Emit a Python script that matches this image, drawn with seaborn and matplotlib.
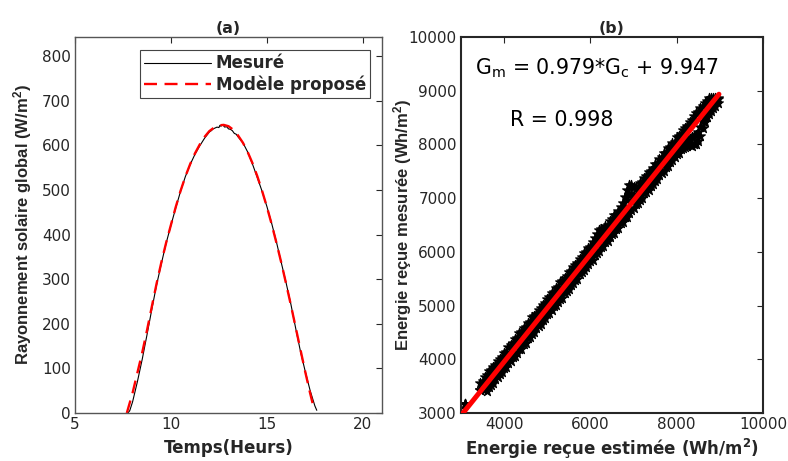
import matplotlib
matplotlib.use("Agg")
import matplotlib.pyplot as plt
import seaborn as sns
import pandas as pd

# ---------------- data: panel (a) ----------------
time_meas = [7.75, 7.85, 8.0, 8.25, 8.5, 8.75, 9.0, 9.25, 9.5, 9.75, 10.0, 10.25,
             10.5, 10.75, 11.0, 11.25, 11.5, 11.75, 12.0, 12.1, 12.2, 12.3, 12.4,
             12.5, 12.55, 12.6, 12.7, 12.8, 12.9, 13.0, 13.1, 13.2, 13.3, 13.4,
             13.5, 13.75, 14.0, 14.25, 14.5, 14.75, 15.0, 15.25, 15.5, 15.75,
             16.0, 16.25, 16.5, 16.75, 17.0, 17.25, 17.5, 17.6]
g_meas = [0, 5, 25, 70, 120, 175, 232, 287, 335, 381, 421, 460,
          497, 530, 557, 580, 599, 616, 630, 633, 637, 639, 641,
          640, 645, 643, 646, 641, 642, 637, 636, 633, 627, 625,
          619, 606, 585, 558, 528, 497, 463, 425, 383, 337,
          292, 244, 190, 138, 93, 51, 16, 6]

time_model = [7.7, 8.0, 8.25, 8.5, 8.75, 9.0, 9.25, 9.5, 9.75, 10.0, 10.25, 10.5,
              10.75, 11.0, 11.25, 11.5, 11.75, 12.0, 12.25, 12.5, 12.75, 13.0,
              13.25, 13.5, 13.75, 14.0, 14.25, 14.5, 14.75, 15.0, 15.25, 15.5,
              15.75, 16.0, 16.25, 16.5, 16.75, 17.0, 17.25, 17.45]
g_model = [0, 45, 90, 135, 185, 238, 290, 338, 382, 422, 462, 498,
           530, 558, 582, 602, 619, 632, 640, 645, 646, 643,
           635, 622, 606, 585, 560, 531, 498, 462, 423, 381,
           337, 290, 242, 192, 142, 92, 45, 10]

# ---------------- data: panel (b) ----------------
# estimated energy, and measured energy of the upper edge, middle and lower edge
# of the point cloud
energy_est = [3093,
              3450, 3500, 3550, 3600, 3650, 3700, 3750, 3800, 3850, 3900,
              3950, 4000, 4050, 4100, 4150, 4200, 4250, 4300, 4350, 4400,
              4450, 4500, 4550, 4600, 4650, 4700, 4750, 4800, 4850, 4900,
              4950, 5000, 5050, 5100, 5150, 5200, 5250, 5300, 5350, 5400,
              5450, 5500, 5550, 5600, 5650, 5700, 5750, 5800, 5850, 5900,
              5950, 6000, 6050, 6100, 6150, 6200, 6250, 6300, 6350, 6400,
              6450, 6500, 6550, 6600, 6650, 6700, 6750, 6800, 6850, 6900,
              6950, 7000, 7050, 7100, 7150, 7200, 7250, 7300, 7350, 7400,
              7450, 7500, 7550, 7600, 7650, 7700, 7750, 7800, 7850, 7900,
              7950, 8000, 8050, 8100, 8150, 8200, 8250, 8300, 8350, 8400,
              8450, 8500, 8550, 8600, 8650, 8700, 8750, 8800, 8850, 8900,
              8950]
energy_mes_hi = [3165,
                 3560, 3590, 3670, 3700, 3780, 3795, 3865, 3885, 3975, 4005,
                 4050, 4120, 4140, 4235, 4260, 4295, 4375, 4400, 4490, 4515,
                 4580, 4605, 4670, 4695, 4790, 4810, 4840, 4925, 4950, 5015,
                 5045, 5125, 5160, 5240, 5250, 5320, 5340, 5430, 5455, 5515,
                 5550, 5630, 5645, 5720, 5760, 5790, 5875, 5905, 5985, 6000,
                 6065, 6095, 6180, 6250, 6340, 6400, 6420, 6410, 6475, 6500,
                 6570, 6605, 6680, 6695, 6765, 6840, 6910, 7020, 7150, 7240,
                 7250, 7200, 7180, 7210, 7275, 7295, 7370, 7405, 7485, 7500,
                 7565, 7630, 7645, 7720, 7760, 7840, 7850, 7925, 7955, 8020,
                 8050, 8130, 8160, 8195, 8275, 8315, 8350, 8420, 8455, 8530,
                 8580, 8610, 8680, 8710, 8770, 8800, 8860, 8870, 8870, 8865,
                 8870]
energy_mes_mid = [3165,
                  3420, 3440, 3530, 3530, 3610, 3690, 3670, 3750, 3830, 3840,
                  3910, 3930, 4030, 4040, 4120, 4120, 4240, 4250, 4280, 4380,
                  4390, 4470, 4470, 4560, 4640, 4630, 4700, 4780, 4790, 4860,
                  4930, 4930, 5010, 5040, 5140, 5150, 5170, 5270, 5290, 5380,
                  5400, 5470, 5480, 5580, 5590, 5660, 5670, 5790, 5800, 5870,
                  5890, 5980, 6010, 6100, 6230, 6300, 6310, 6270, 6290, 6380,
                  6410, 6430, 6530, 6540, 6620, 6650, 6740, 6840, 6970, 7060,
                  7070, 7040, 7030, 7050, 7120, 7130, 7240, 7240, 7310, 7380,
                  7390, 7470, 7480, 7560, 7640, 7650, 7670, 7780, 7790, 7860,
                  7930, 7930, 8010, 8040, 8060, 8080, 8100, 8110, 8130, 8150,
                  8180, 8240, 8330, 8440, 8550, 8620, 8690, 8750, 8800, 8830,
                  8850]
energy_mes_lo = [3165,
                 3420, 3440, 3440, 3410, 3490, 3520, 3550, 3635, 3665, 3725,
                 3770, 3840, 3855, 3930, 3965, 4045, 4060, 4125, 4185, 4200,
                 4280, 4310, 4390, 4415, 4475, 4505, 4585, 4620, 4650, 4730,
                 4765, 4835, 4860, 4925, 4990, 5005, 5070, 5130, 5150, 5235,
                 5275, 5310, 5390, 5415, 5480, 5500, 5585, 5620, 5660, 5725,
                 5765, 5830, 5855, 5935, 5970, 6010, 6090, 6115, 6175, 6205,
                 6270, 6335, 6360, 6425, 6450, 6530, 6565, 6640, 6655, 6720,
                 6780, 6810, 6885, 6915, 6975, 7000, 7090, 7120, 7160, 7230,
                 7265, 7325, 7355, 7435, 7470, 7510, 7580, 7600, 7675, 7715,
                 7760, 7830, 7850, 7920, 7940, 7960, 7975, 7990, 7980, 8000,
                 8010, 8060, 8150, 8300, 8420, 8510, 8570, 8620, 8680, 8720,
                 8770]

fit_est = [3050, 8980]
fit_mes = [3003, 8935]

# ---------------- style ----------------
sns.set_theme(style="white")
plt.rcParams["font.family"] = ["DejaVu Sans"]
plt.rcParams["mathtext.default"] = "regular"
plt.rcParams["xtick.direction"] = "in"
plt.rcParams["ytick.direction"] = "in"

fig = plt.figure(figsize=(7.88, 4.61), dpi=100)
ax1 = fig.add_axes([0.0952, 0.1041, 0.3896, 0.8156])
ax2 = fig.add_axes([0.585, 0.1041, 0.3832, 0.8156])

tick_color = "#262626"
vfont = {"family": "Liberation Sans", "size": 12, "weight": "bold"}

# ---------------- panel (a) ----------------
df_meas = pd.DataFrame({"t": time_meas, "g": g_meas})
df_model = pd.DataFrame({"t": time_model, "g": g_model})
sns.lineplot(data=df_meas, x="t", y="g", ax=ax1, color="black", linewidth=0.8,
             label="Mesuré", sort=False)
sns.lineplot(data=df_model, x="t", y="g", ax=ax1, color="#ff0000", linewidth=1.7,
             dashes=(5.5, 3.2), label="Modèle proposé", sort=False)
ax1.set_xlim(5, 21)
ax1.set_ylim(0, 843)
ax1.set_xticks([5, 10, 15, 20])
ax1.set_yticks([0, 100, 200, 300, 400, 500, 600, 700, 800])
ax1.set_xlabel("Temps(Heurs)", fontsize=12, fontweight="bold", color="#262626")
ax1.xaxis.set_label_coords(0.5, -0.068)
ax1.set_ylabel("Rayonnement solaire global (W/m$^2$)", fontdict=vfont, color="#262626")
ax1.yaxis.set_label_coords(-0.135, 0.5)
ax1.set_title("(a)", fontsize=11.3, fontweight="bold", pad=3)
leg = ax1.legend(loc="upper right", bbox_to_anchor=(0.961, 0.965), fancybox=False,
                 edgecolor="#444444", framealpha=1, borderaxespad=0, handlelength=4.0,
                 prop={"weight": "bold", "size": 12}, borderpad=0.25, labelspacing=0.2,
                 handletextpad=0.3)
leg.get_frame().set_linewidth(0.8)
for sp in ax1.spines.values():
    sp.set_color("#555555")
    sp.set_linewidth(1.0)
ax1.tick_params(axis="both", which="both", labelsize=11, colors=tick_color,
                top=True, right=True, length=4, width=0.8, pad=3)

# ---------------- panel (b) ----------------
df_sc = pd.DataFrame({"est": energy_est * 3,
                      "mes": energy_mes_hi + energy_mes_mid + energy_mes_lo})
sns.scatterplot(data=df_sc, x="est", y="mes", ax=ax2, marker="*", s=55,
                color="black", edgecolor="black", linewidth=0.8, zorder=2)
df_fit = pd.DataFrame({"est": fit_est, "mes": fit_mes})
sns.lineplot(data=df_fit, x="est", y="mes", ax=ax2, color="#ff0000", linewidth=3.6,
             zorder=3)
ax2.set_xlim(3000, 10000)
ax2.set_ylim(3000, 10000)
ax2.set_xticks([4000, 6000, 8000, 10000])
ax2.set_yticks([3000, 4000, 5000, 6000, 7000, 8000, 9000, 10000])
ax2.set_xlabel("Energie reçue estimée (Wh/m$^2$)", fontsize=12, fontweight="bold",
               color="#262626")
ax2.xaxis.set_label_coords(0.5, -0.064)
ax2.set_ylabel("Energie reçue mesurée (Wh/m$^2$)", fontdict=vfont, color="#262626")
ax2.yaxis.set_label_coords(-0.155, 0.5)
ax2.set_title("(b)", fontsize=11.3, fontweight="bold", pad=3)
ax2.text(3330, 9423, "G$_m$ = 0.979*G$_c$ + 9.947", fontsize=14.8, va="center",
         ha="left", color="black")
ax2.text(4140, 8454, "R = 0.998", fontsize=14.8, va="center", ha="left", color="black")
for sp in ax2.spines.values():
    sp.set_color("#262626")
    sp.set_linewidth(1.5)
ax2.tick_params(axis="both", which="both", labelsize=11, colors=tick_color,
                top=True, right=True, length=4, width=0.8, pad=3)

fig.savefig("out.png", dpi=100)
